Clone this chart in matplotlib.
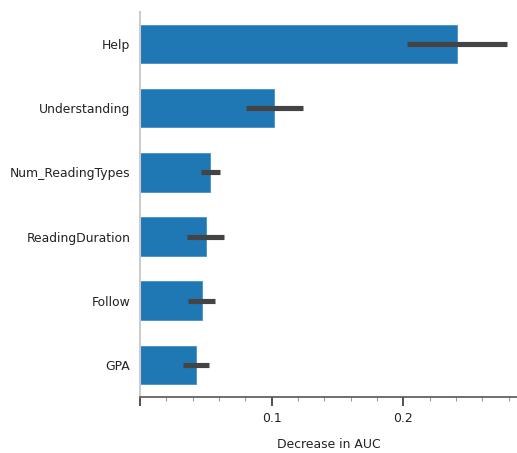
import numpy as np
import matplotlib
matplotlib.use('Agg')
import matplotlib.pyplot as plt
from matplotlib.ticker import MultipleLocator

# Permutation importance: mean decrease in AUC with spread
features = ['Help', 'Understanding', 'Num_ReadingTypes', 'ReadingDuration', 'Follow', 'GPA']
decrease = [0.2407, 0.1020, 0.0534, 0.0498, 0.0469, 0.0424]
spread = [0.0380, 0.0217, 0.0072, 0.0143, 0.0101, 0.0100]

bar_color = '#1f77b4'
err_color = '#444444'

fig = plt.figure(figsize=(5.17, 4.53), dpi=100)
ax = fig.add_axes([0.2708, 0.1236, 0.7292, 0.85])

y = np.arange(len(features))
ax.barh(y, decrease, height=0.6, color=bar_color, edgecolor='#4a90c8', linewidth=0.6,
        xerr=spread, error_kw=dict(ecolor=err_color, elinewidth=3.7, capsize=0))

ax.set_ylim(len(features) - 0.5, -0.5)
ax.set_xlim(0, 0.2864)
ax.set_yticks(y)
ax.set_yticklabels(features)

ax.xaxis.set_minor_locator(MultipleLocator(0.02))
ax.set_xticks([0, 0.1, 0.2])
ax.set_xticklabels(['', '0.1', '0.2'])

ax.tick_params(axis='y', length=0, pad=7, labelsize=8.9, labelcolor='#222222')
ax.tick_params(axis='x', which='major', length=6.5, width=1.2, color='#333333',
               pad=4, labelsize=8.9, labelcolor='#222222')
ax.tick_params(axis='x', which='minor', length=3, width=0.8, color='#999999')

for side in ['top', 'right']:
    ax.spines[side].set_visible(False)
ax.spines['left'].set_color('#cccccc')
ax.spines['left'].set_linewidth(1.5)
ax.spines['bottom'].set_color('#555555')
ax.spines['bottom'].set_linewidth(1.2)

ax.set_xlabel('Decrease in AUC', fontsize=8.9, color='#222222', labelpad=10)

fig.savefig('out.png', dpi=100)
